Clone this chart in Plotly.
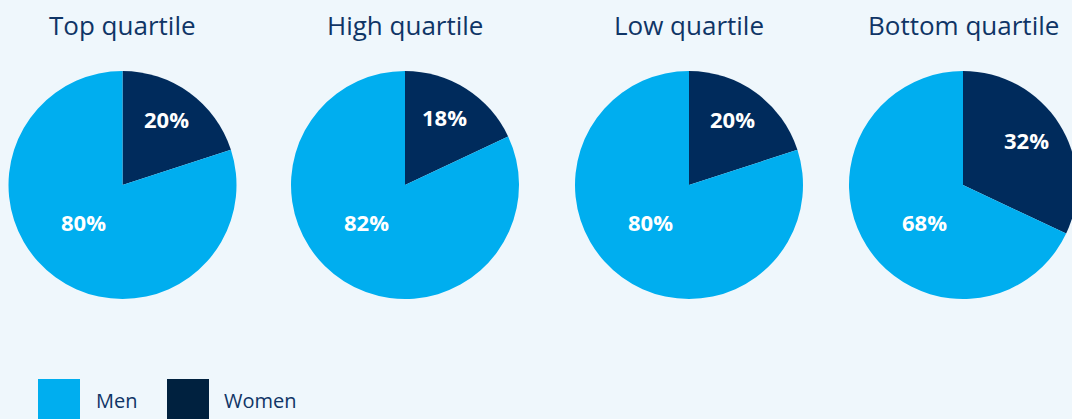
import math
import plotly.graph_objects as go

# ---- data ----
quartiles = ["Top quartile", "High quartile", "Low quartile", "Bottom quartile"]
groups = ["Women", "Men"]
women_pct = [20, 18, 20, 32]
men_pct = [80, 82, 80, 68]

W, H = 1085, 419   # a bit wider than the window so the last pie is cut at the edge
BG = "#eff7fc"
MEN_C = "#00aeef"
WOMEN_C = "#002b5c"
WOMEN_LEG = "#00213f"
TITLE_C = "#0f3566"

# pie centres / radius in pixels (layout)
centers_x = [122.5, 405, 689, 963]
cy = 185
R = 114

fig = go.Figure()
annotations = []
for i, q in enumerate(quartiles):
    cx = centers_x[i]
    x0 = (cx - R) / W
    x1 = (cx + R) / W
    y0 = (H - (cy + R)) / H
    y1 = (H - (cy - R)) / H
    fig.add_trace(go.Pie(
        labels=groups,
        values=[women_pct[i], men_pct[i]],
        marker=dict(colors=[WOMEN_C, MEN_C], line=dict(width=0)),
        sort=False, direction="clockwise", rotation=0,
        textinfo="none", hoverinfo="label+percent",
        showlegend=False,
        domain=dict(x=[x0, x1], y=[y0, y1]),
    ))
    # title
    annotations.append(dict(
        text=q, x=cx / W, y=(H - 25) / H, xref="paper", yref="paper",
        showarrow=False, xanchor="center", yanchor="middle",
        font=dict(family="Open Sans", size=26, color=TITLE_C)))
    # women label along slice mid-angle
    w = women_pct[i]
    tot = women_pct[i] + men_pct[i]
    mid = (w / tot) * math.pi
    d = 0.68 * R
    wx = cx + math.sin(mid) * d - 2
    wy = cy - math.cos(mid) * d - 3
    annotations.append(dict(
        text=f"{w}%", x=wx / W, y=(H - wy) / H, xref="paper", yref="paper",
        showarrow=False, xanchor="center", yanchor="middle",
        font=dict(family="Open Sans", size=22, color="white", weight="bold")))
    # men label lower-left inside the big slice
    mx = cx - 39
    my = cy + 37
    annotations.append(dict(
        text=f"{men_pct[i]}%", x=mx / W, y=(H - my) / H, xref="paper", yref="paper",
        showarrow=False, xanchor="center", yanchor="middle",
        font=dict(family="Open Sans", size=22, color="white", weight="bold")))

# legend drawn manually
shapes = []
legend_items = [("Men", MEN_C, 38, 94), ("Women", WOMEN_LEG, 167, 222)]
for name, col, sx, tx in legend_items:
    shapes.append(dict(type="rect", xref="paper", yref="paper",
                       x0=sx / W, x1=(sx + 42) / W, y0=0, y1=(H - 379) / H,
                       fillcolor=col, line=dict(width=0)))
    annotations.append(dict(
        text=name, x=tx / W, y=(H - 400) / H, xref="paper", yref="paper",
        showarrow=False, xanchor="left", yanchor="middle",
        font=dict(family="Open Sans", size=20, color=TITLE_C)))

fig.update_layout(
    width=W, height=H,
    margin=dict(l=0, r=0, t=0, b=0),
    paper_bgcolor=BG, plot_bgcolor=BG,
    annotations=annotations, shapes=shapes,
)
fig.write_html(
    "out.html",
    config={"displayModeBar": False},
    post_script="document.body.style.margin='0';document.body.style.overflow='hidden';"
                "document.documentElement.style.overflow='hidden';",
)
